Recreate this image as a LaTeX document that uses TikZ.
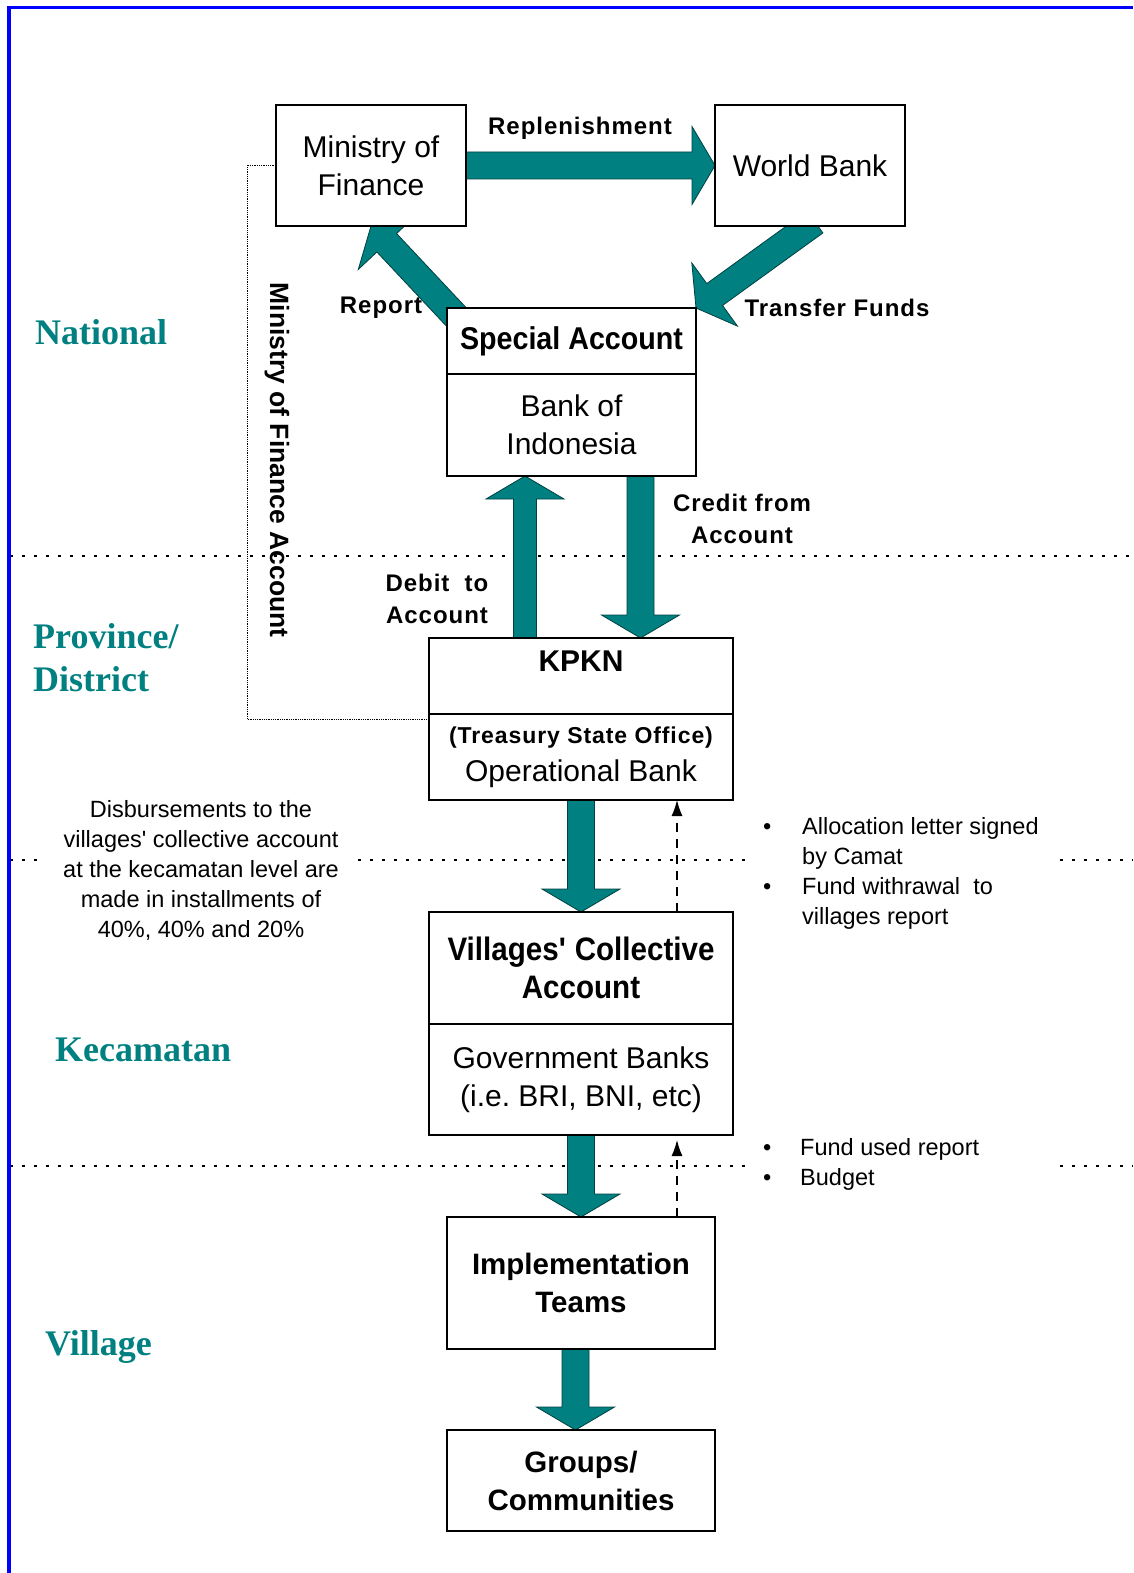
\documentclass[tikz,border=0pt]{standalone}
\usepackage{fontspec}
\setmainfont{Liberation Sans}
\newfontfamily\lvlfont{Liberation Serif}
\newfontfamily\trackfont{Liberation Sans}[LetterSpace=4]
\newfontfamily\narrowfont{Liberation Sans}[FakeStretch=0.91]
\usetikzlibrary{calc, positioning, backgrounds, arrows.meta}
\definecolor{kdpteal}{RGB}{0,128,128}
\definecolor{kdpedge}{RGB}{0,64,64}
\tikzset{
	box/.style={draw, line width=1.4pt, fill=white, align=center, inner sep=0pt, outer sep=0pt, font=\fontsize{30}{38}\selectfont},
	boxb/.style={box, font=\fontsize{29.5}{38}\selectfont\bfseries},
	boxn/.style={box, font=\narrowfont\fontsize{32.5}{38}\selectfont\bfseries},
	fatarr/.style={fill=kdpteal, draw=kdpedge, line width=0.8pt, line join=miter},
	lbl/.style={font=\trackfont\fontsize{24}{32}\selectfont\bfseries, align=center, inner sep=0pt},
	lvl/.style={font=\lvlfont\fontsize{36}{43}\selectfont\bfseries, text=kdpteal, align=left, anchor=west, inner sep=0pt},
	lvlline/.style={line width=1.5pt, dash pattern=on 3pt off 9pt},
	note/.style={font=\fontsize{23.5}{30}\selectfont, align=center, inner sep=0pt},
	rptarrow/.style={line width=1.3pt, dash pattern=on 9pt off 7pt, -{Latex[length=16pt, width=11pt]}},
	mofline/.style={line width=0.8pt, densely dotted}
}
% block arrow from #2 to #3, #1 = half width of the shaft
\newcommand{\fatarrow}[3][13.5pt]{
	\coordinate (h) at ($(#3)!23pt!(#2)$);
	\filldraw[fatarr] ($(#2)!#1!90:(#3)$) -- ($(h)!#1!90:(#3)$) -- ($(h)!39pt!90:(#3)$) -- (#3)
		-- ($(h)!39pt!-90:(#3)$) -- ($(h)!#1!-90:(#3)$) -- ($(#2)!#1!-90:(#3)$) -- cycle;
}

\begin{document}
\begin{tikzpicture}[x=1pt, y=-1pt]
	\useasboundingbox (0,0) rectangle (1133,1573);
	\draw[blue, line width=3.5pt] (9,1573) -- (9,7.5) -- (1133,7.5);

	\node[box, minimum width=190pt, minimum height=121pt] (mof) at (371,165.5) {Ministry of\\Finance};
	\node[box, minimum width=190pt, minimum height=121pt] (wb) at (810,165.5) {World Bank};
	\node[boxn, font=\narrowfont\fontsize{31.5}{38}\selectfont\bfseries, minimum width=249pt, minimum height=66pt] (sa) at (571.5,341) {Special Account};
	\node[box, minimum width=249pt, minimum height=102pt, below=0pt of sa] (bi) {Bank of\\Indonesia};
	\node[box, minimum width=304pt, minimum height=76pt] (kpkn) at (581,676) {};
	\node[boxb, font=\fontsize{30}{38}\selectfont\bfseries, draw=none, fill=none] (kpkntxt) at ($(kpkn.north)+(0,23)$) {KPKN};
	\node[box, minimum width=304pt, minimum height=86pt, below=0pt of kpkn] (kpknb)
		{{\trackfont\fontsize{23}{37}\selectfont\bfseries (Treasury State Office)}\\Operational Bank};
	\node[boxn, minimum width=304pt, minimum height=112pt] (vca) at (581,968) {Villages\textquotesingle{} Collective\\Account};
	\node[box, minimum width=304pt, minimum height=111pt, below=0pt of vca] (vcab) {Government Banks\\(i.e.\ BRI, BNI, etc)};
	\node[boxb, minimum width=268pt, minimum height=132pt] (impl) at (581,1283) {Implementation\\Teams};
	\node[boxb, minimum width=268pt, minimum height=101pt] (grp) at (581,1480.5) {Groups/\\Communities};

	\coordinate (rps) at ($(sa.north west)+(15,15)$);
	\coordinate (tfs) at ($(wb.south)+(5,-4)$);
	\coordinate (dbx) at (525,0);
	\coordinate (crx) at (640.5,0);
	\coordinate (igx) at (575.5,0);
	\coordinate (rpx) at (677,0);

	\begin{scope}[on background layer]
		\draw[lvlline] (10,556) -- (1133,556);
		\draw[lvlline] (10,860) -- (45,860) (358,860) -- (745,860) (1060,860) -- (1133,860);
		\draw[lvlline] (10,1166) -- (745,1166) (1060,1166) -- (1133,1166);
		\draw[mofline] (mof.west) -- ++(-29,0) |- ($(kpknb.north west)+(0,5)$);
		\fatarrow{mof.east}{wb.west}
		\fatarrow{tfs}{sa.north east}
		\fatarrow{rps}{mof.south}
		\fatarrow[11.5pt]{kpkn.north -| dbx}{bi.south -| dbx}
		\fatarrow{bi.south -| crx}{kpkn.north -| crx}
		\fatarrow{kpknb.south}{vca.north}
		\fatarrow{vcab.south}{impl.north}
		\fatarrow{impl.south -| igx}{grp.north -| igx}
	\end{scope}
	\draw[rptarrow] (vca.north -| rpx) -- (kpknb.south -| rpx);
	\draw[rptarrow, shorten >=5pt] (impl.north -| rpx) -- (vcab.south -| rpx);

	\node[lbl] (rpl) at (580,128) {Replenishment};
	\node[lbl] (trf) at (837,308) {Transfer Funds};
	\node[lbl] (rpt) at (381,308) {Report};
	\node[lbl] (crd) at (742,519) {Credit from\\Account};
	\node[lbl] (dbt) at (437,599) {Debit\ \ to\\Account};
	\node[font=\fontsize{26.5}{30}\selectfont\bfseries, rotate=-90, inner sep=0pt] (mofacc) at (277,460) {Ministry of Finance Account};

	\node[lvl] (nat) at (35,332) {National};
	\node[lvl] (prov) at (33,657.5) {Province/\\District};
	\node[lvl] (kec) at (55,1050) {Kecamatan};
	\node[lvl] (vil) at (45,1347) {Village};

	\node[note] (disb) at (201,870.5) {Disbursements to the\\villages\textquotesingle{} collective account\\at the kecamatan level are\\made in installments of\\40\%, 40\% and 20\%};
	\node[note, anchor=west] (alloc) at (763,873) {\begin{tabular}{@{}p{39pt}@{}l@{}}\textbullet & Allocation letter signed\\ & by Camat\\ \textbullet & Fund withrawal\ \ to\\ & villages report\end{tabular}};
	\node[note, anchor=west] (used) at (763,1164.5) {\begin{tabular}{@{}p{37pt}@{}l@{}}\textbullet & Fund used report\\ \textbullet & Budget\end{tabular}};
\end{tikzpicture}
\end{document}
